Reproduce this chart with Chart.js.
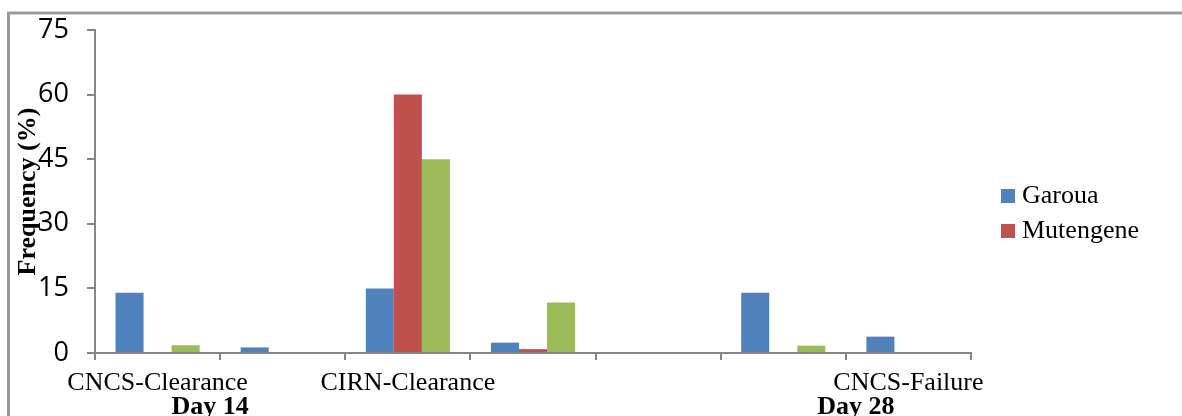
<!DOCTYPE html>
<html>
<head>
<meta charset="utf-8">
<style>
  html, body { margin: 0; padding: 0; background: #ffffff; }
  #wrap { width: 1182px; height: 416px; }
</style>
<script src="https://cdn.jsdelivr.net/npm/chart.js@4/dist/chart.umd.min.js"></script>
</head>
<body>
<div id="wrap"><canvas id="chart" width="1182" height="416"></canvas></div>
<script>
// Treatment outcome categories along the x axis
const categories = ['CNCS-Clearance', 'CNCS-Failure', 'CIRN-Clearance', 'CIRN-Failure', '', 'CNCS-Clearance', 'CNCS-Failure'];
// Frequency (%) per site
const garoua    = [14, 1.3, 15, 2.4, 0, 14, 3.8];
const mutengene = [0, 0, 60, 0.9, 0, 0, 0];
const overall   = [1.8, 0, 45, 11.7, 0, 1.7, 0];
// Y axis ticks
const yTicks = [0, 15, 30, 45, 60, 75];
// Follow-up day groups under the axis
const dayGroups = ['Day 14', 'Day 28'];

const SERIF = '"Liberation Serif", "Times New Roman", serif';
const SANS = '"Open Sans", "Noto Sans", sans-serif';

// Outer frame of the chart object
const framePlugin = {
  id: 'frame',
  beforeDraw(chart) {
    const ctx = chart.ctx;
    ctx.save();
    ctx.strokeStyle = '#9a9a9a';
    ctx.lineWidth = 3;
    ctx.beginPath();
    ctx.moveTo(8.5, 416);
    ctx.lineTo(8.5, 13);
    ctx.lineTo(1182, 13);
    ctx.stroke();
    ctx.restore();
  }
};

// Legend box on the right (first two series)
const sideLegend = {
  id: 'sideLegend',
  afterDraw(chart, args, opts) {
    const ctx = chart.ctx;
    ctx.save();
    ctx.font = '26px ' + SERIF;
    ctx.textBaseline = 'middle';
    ctx.textAlign = 'left';
    let y = opts.top;
    chart.data.datasets.forEach(ds => {
      if (ds.inLegend === false) return;
      ctx.fillStyle = ds.backgroundColor;
      ctx.fillRect(opts.left, y - 7, 14, 14);
      ctx.fillStyle = '#000000';
      ctx.fillText(ds.label, opts.left + 21, y);
      y += opts.step;
    });
    ctx.restore();
  }
};

// Day group captions below the category labels
const dayCaptions = {
  id: 'dayCaptions',
  afterDraw(chart, args, opts) {
    const ctx = chart.ctx;
    const x = chart.scales.x;
    ctx.save();
    ctx.font = 'bold 26px ' + SERIF;
    ctx.fillStyle = '#000000';
    ctx.textAlign = 'center';
    ctx.textBaseline = 'alphabetic';
    dayGroups.forEach((txt, i) => {
      ctx.fillText(txt, x.getPixelForValue(opts.at[i]), opts.baseline);
    });
    ctx.restore();
  }
};

new Chart(document.getElementById('chart'), {
  type: 'bar',
  data: {
    labels: categories,
    datasets: [
      { label: 'Garoua', data: garoua, backgroundColor: '#4F81BD' },
      { label: 'Mutengene', data: mutengene, backgroundColor: '#C0504D' },
      { label: 'Total', data: overall, backgroundColor: '#9BBB59', inLegend: false }
    ]
  },
  options: {
    responsive: false,
    animation: false,
    devicePixelRatio: 1,
    layout: { padding: { top: 30, right: 211, bottom: 0, left: 0 } },
    datasets: {
      bar: { categoryPercentage: 0.672, barPercentage: 1.0, borderWidth: 0 }
    },
    plugins: {
      legend: { display: false },
      tooltip: { enabled: false },
      sideLegend: { left: 1001, top: 196, step: 35 },
      dayCaptions: { at: [0.42, 5.58], baseline: 414 }
    },
    scales: {
      x: {
        grid: {
          display: true, drawOnChartArea: false, drawTicks: true,
          tickLength: 7, color: '#868686', lineWidth: 2
        },
        border: { display: true, color: '#868686', width: 2 },
        ticks: {
          autoSkip: false, maxRotation: 0, minRotation: 0, padding: 8,
          color: '#000000',
          font: { family: SERIF, size: 26 },
          callback: (v, i) => (i % 2 === 0 ? categories[i] : '')
        },
        afterFit: s => { s.height = 63; }
      },
      y: {
        min: 0, max: 75,
        afterBuildTicks: s => { s.ticks = yTicks.map(v => ({ value: v })); },
        grid: {
          display: true, drawOnChartArea: false, drawTicks: true,
          tickLength: 8, color: '#868686', lineWidth: 2
        },
        border: { display: true, color: '#868686', width: 2 },
        ticks: {
          padding: 18, color: '#000000',
          font: { family: SANS, size: 27 }
        },
        title: {
          display: true, text: 'Frequency (%)', color: '#000000',
          font: { family: SERIF, size: 26, weight: 'bold' },
          padding: { top: 13, bottom: 0 }
        },
        afterFit: s => { s.width = 95; s.paddingTop = 0; s.paddingBottom = 0; }
      }
    }
  },
  plugins: [framePlugin, sideLegend, dayCaptions]
});
</script>
</body>
</html>
